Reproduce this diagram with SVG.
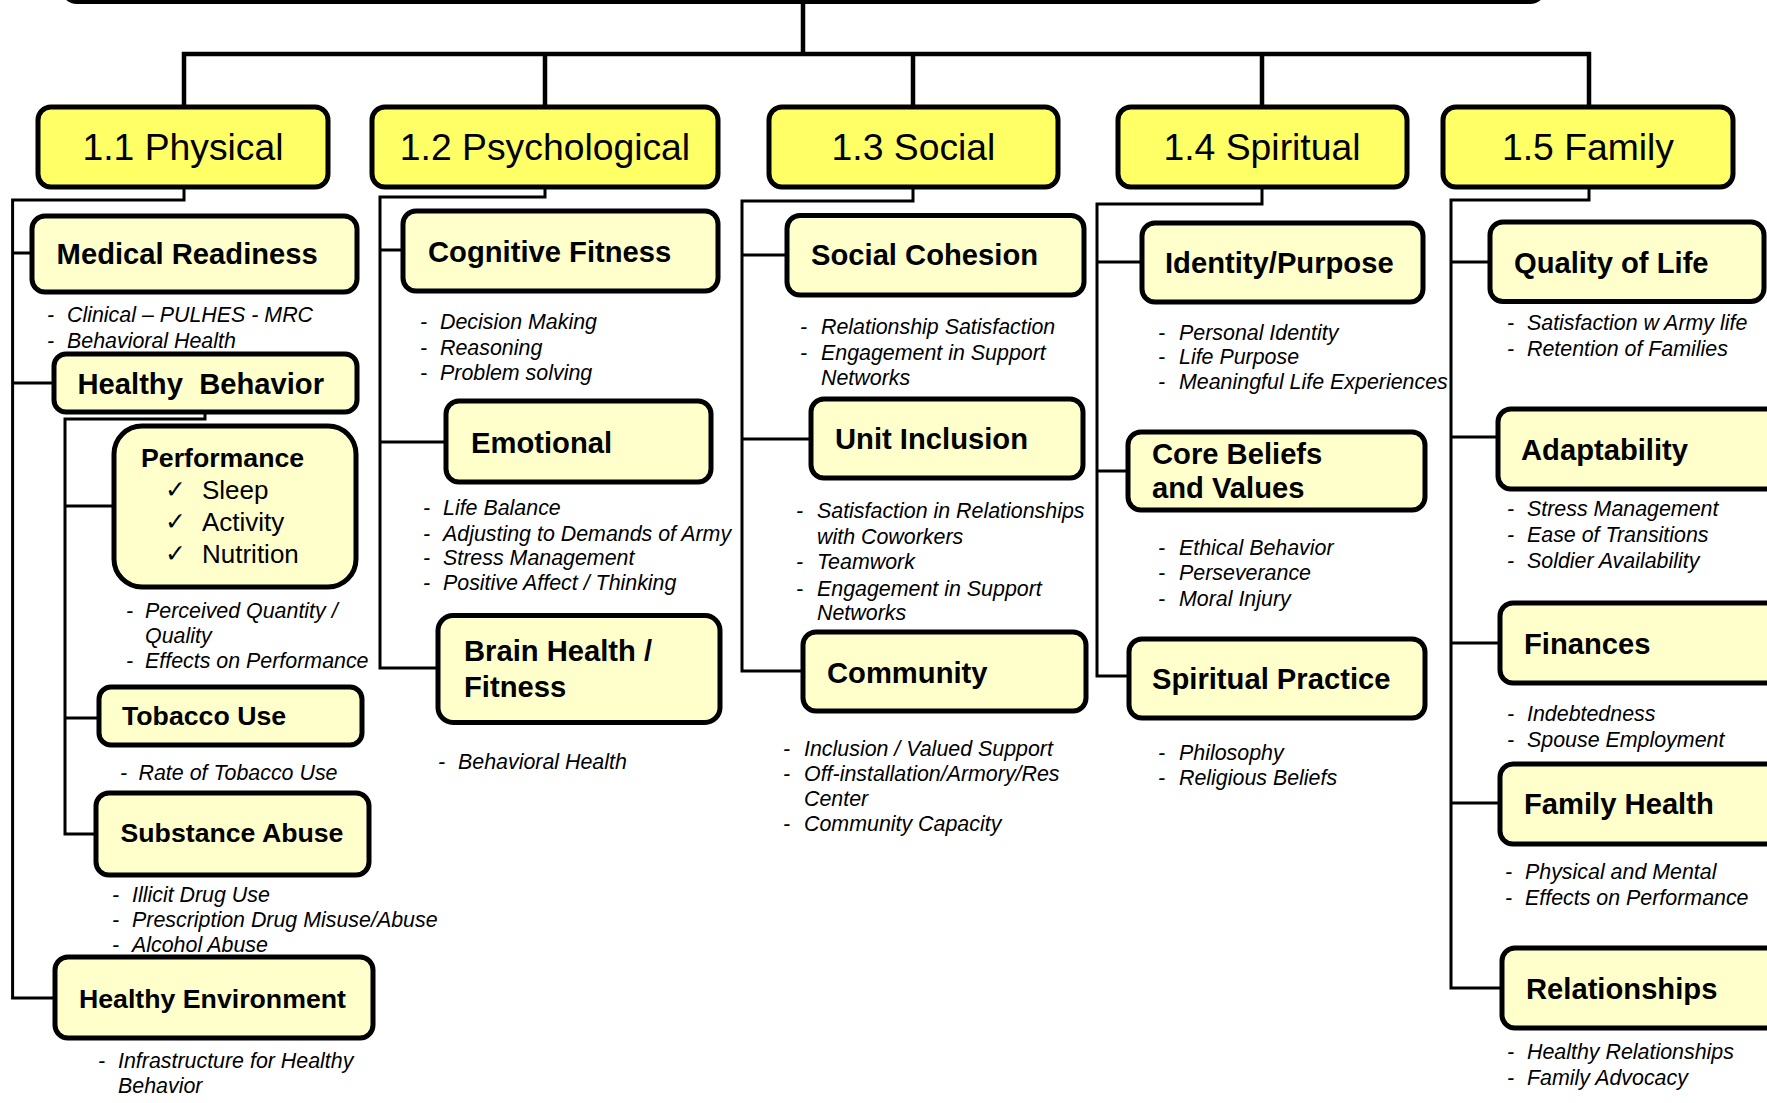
<svg xmlns="http://www.w3.org/2000/svg" width="1767" height="1103" viewBox="0 0 1767 1103">
<style>
.cat{fill:#FFFF66;stroke:#000;stroke-width:5}
.sub{fill:#FFFFCC;stroke:#000;stroke-width:5}
.top{fill:#FFFFFF;stroke:#000;stroke-width:5}
.ct{font-family:"Liberation Sans",Arial,sans-serif;font-size:37.3px;text-anchor:middle;fill:#000}
.st{font-family:"Liberation Sans",Arial,sans-serif;font-weight:bold;font-size:29.2px;fill:#000}
.sm{font-size:26.7px}
.pt{font-family:"Liberation Sans",Arial,sans-serif;font-size:26px;fill:#000}
.ck{font-family:"DejaVu Sans",sans-serif;font-size:25px;fill:#000}
.b{font-family:"Liberation Sans",Arial,sans-serif;font-style:italic;font-size:21.4px;fill:#000}
.conn{fill:none;stroke:#000;stroke-width:3}
.main{fill:none;stroke:#000;stroke-width:4.5}
</style>

<g id="root">
<rect class="top" x="63" y="-60" width="1481" height="61.5" rx="14"/>
</g>

<g id="connectors">
<path class="main" d="M803,2 V54 M184,107 V54 H1589 V107 M545,54 V107 M913,54 V107 M1262,54 V107"/>
<path class="conn" d="M184,187 V200 H12.6 V998 H55 M12.6,253 H32 M12.6,383 H54"/>
<path class="conn" d="M205,412 V419 H65 V834 H96 M65,506 H114 M65,718 H99"/>
<path class="conn" d="M545,187 V197 H380 V668 H438 M380,250 H403 M380,442 H446"/>
<path class="conn" d="M913,187 V201 H742 V671 H803 M742,255 H787 M742,439 H811"/>
<path class="conn" d="M1262,187 V204 H1097 V676 H1129 M1097,262 H1142 M1097,471 H1128"/>
<path class="conn" d="M1589,187 V200 H1451 V988 H1502 M1451,262 H1490 M1451,437 H1498 M1451,643 H1500 M1451,803 H1500"/>
</g>

<g id="cat-physical"><rect class="cat" x="38" y="107" width="290" height="80" rx="13"/><text class="ct" x="183" y="160">1.1 Physical</text></g>
<g id="cat-psychological"><rect class="cat" x="372" y="107" width="346" height="80" rx="13"/><text class="ct" x="545" y="160">1.2 Psychological</text></g>
<g id="cat-social"><rect class="cat" x="769" y="107" width="289" height="80" rx="13"/><text class="ct" x="913.5" y="160">1.3 Social</text></g>
<g id="cat-spiritual"><rect class="cat" x="1118" y="107" width="289" height="80" rx="13"/><text class="ct" x="1262" y="160">1.4 Spiritual</text></g>
<g id="cat-family"><rect class="cat" x="1443" y="107" width="290" height="80" rx="13"/><text class="ct" x="1588" y="160">1.5 Family</text></g>

<!-- Physical column -->
<g id="medical-readiness"><rect class="sub" x="32" y="216" width="325" height="76" rx="13"/><text class="st" x="56.6" y="264">Medical Readiness</text></g>
<g id="medical-readiness-items"><text class="b"><tspan x="47" y="322">-</tspan><tspan x="67" y="322">Clinical – PULHES - MRC</tspan><tspan x="47" y="348">-</tspan><tspan x="67" y="348">Behavioral Health</tspan></text></g>
<g id="healthy-behavior"><rect class="sub" x="54" y="354" width="303" height="58" rx="12"/><text class="st" x="77.5" y="394" xml:space="preserve">Healthy  Behavior</text></g>
<g id="performance"><rect class="sub" x="114" y="426" width="242" height="161" rx="28"/>
<text class="st sm" x="141" y="467">Performance</text>
<text class="ck" x="165" y="498">✓</text><text class="pt" x="202" y="499">Sleep</text>
<text class="ck" x="165" y="530">✓</text><text class="pt" x="202" y="531">Activity</text>
<text class="ck" x="165" y="562">✓</text><text class="pt" x="202" y="563">Nutrition</text></g>
<g id="performance-items"><text class="b"><tspan x="126" y="618">-</tspan><tspan x="145" y="618">Perceived Quantity /</tspan><tspan x="145" y="643">Quality</tspan><tspan x="126" y="668">-</tspan><tspan x="145" y="668">Effects on Performance</tspan></text></g>
<g id="tobacco-use"><rect class="sub" x="99" y="687" width="263" height="58" rx="12"/><text class="st sm" x="122" y="725">Tobacco Use</text></g>
<g id="tobacco-items"><text class="b"><tspan x="120" y="780">-</tspan><tspan x="138.5" y="780">Rate of Tobacco Use</tspan></text></g>
<g id="substance-abuse"><rect class="sub" x="96" y="793" width="273" height="82" rx="13"/><text class="st sm" x="120.5" y="842">Substance Abuse</text></g>
<g id="substance-items"><text class="b"><tspan x="112" y="902">-</tspan><tspan x="132" y="902">Illicit Drug Use</tspan><tspan x="112" y="927">-</tspan><tspan x="132" y="927">Prescription Drug Misuse/Abuse</tspan><tspan x="112" y="952">-</tspan><tspan x="132" y="952">Alcohol Abuse</tspan></text></g>
<g id="healthy-environment"><rect class="sub" x="55" y="957" width="318" height="81" rx="13"/><text class="st sm" x="79" y="1008">Healthy Environment</text></g>
<g id="environment-items"><text class="b"><tspan x="98" y="1068">-</tspan><tspan x="118" y="1068">Infrastructure for Healthy</tspan><tspan x="118" y="1093">Behavior</tspan></text></g>

<!-- Psychological column -->
<g id="cognitive-fitness"><rect class="sub" x="403" y="211" width="315" height="80" rx="13"/><text class="st" x="428" y="262">Cognitive Fitness</text></g>
<g id="cognitive-items"><text class="b"><tspan x="420" y="329">-</tspan><tspan x="440" y="329">Decision Making</tspan><tspan x="420" y="355">-</tspan><tspan x="440" y="355">Reasoning</tspan><tspan x="420" y="380">-</tspan><tspan x="440" y="380">Problem solving</tspan></text></g>
<g id="emotional"><rect class="sub" x="446" y="401" width="265" height="81" rx="13"/><text class="st" x="471" y="453">Emotional</text></g>
<g id="emotional-items"><text class="b"><tspan x="423" y="515">-</tspan><tspan x="443" y="515">Life Balance</tspan><tspan x="423" y="540.5">-</tspan><tspan x="443" y="540.5">Adjusting to Demands of Army</tspan><tspan x="423" y="565">-</tspan><tspan x="443" y="565">Stress Management</tspan><tspan x="423" y="590">-</tspan><tspan x="443" y="590">Positive Affect / Thinking</tspan></text></g>
<g id="brain-health"><rect class="sub" x="438" y="615.5" width="282" height="107" rx="15"/><text class="st" x="464" y="661">Brain Health /</text><text class="st" x="464" y="697">Fitness</text></g>
<g id="brain-items"><text class="b"><tspan x="438" y="769">-</tspan><tspan x="458" y="769">Behavioral Health</tspan></text></g>

<!-- Social column -->
<g id="social-cohesion"><rect class="sub" x="787" y="215.5" width="297" height="79.5" rx="13"/><text class="st" x="811" y="265">Social Cohesion</text></g>
<g id="cohesion-items"><text class="b"><tspan x="800" y="334">-</tspan><tspan x="821" y="334">Relationship Satisfaction</tspan><tspan x="800" y="360">-</tspan><tspan x="821" y="360">Engagement in Support</tspan><tspan x="821" y="385">Networks</tspan></text></g>
<g id="unit-inclusion"><rect class="sub" x="811" y="399" width="272" height="79" rx="13"/><text class="st" x="835" y="449">Unit Inclusion</text></g>
<g id="unit-items"><text class="b"><tspan x="796" y="518">-</tspan><tspan x="817" y="518">Satisfaction in Relationships</tspan><tspan x="817" y="544">with Coworkers</tspan><tspan x="796" y="569">-</tspan><tspan x="817" y="569">Teamwork</tspan><tspan x="796" y="595.5">-</tspan><tspan x="817" y="595.5">Engagement in Support</tspan><tspan x="817" y="620">Networks</tspan></text></g>
<g id="community"><rect class="sub" x="803" y="632" width="283" height="79" rx="13"/><text class="st" x="827" y="683">Community</text></g>
<g id="community-items"><text class="b"><tspan x="783" y="756">-</tspan><tspan x="804" y="756">Inclusion / Valued Support</tspan><tspan x="783" y="780.6">-</tspan><tspan x="804" y="780.6">Off-installation/Armory/Res</tspan><tspan x="804" y="806">Center</tspan><tspan x="783" y="831">-</tspan><tspan x="804" y="831">Community Capacity</tspan></text></g>

<!-- Spiritual column -->
<g id="identity-purpose"><rect class="sub" x="1142" y="223" width="281" height="79" rx="13"/><text class="st" x="1165" y="273">Identity/Purpose</text></g>
<g id="identity-items"><text class="b"><tspan x="1158" y="340">-</tspan><tspan x="1179" y="340">Personal Identity</tspan><tspan x="1158" y="364">-</tspan><tspan x="1179" y="364">Life Purpose</tspan><tspan x="1158" y="389">-</tspan><tspan x="1179" y="389">Meaningful Life Experiences</tspan></text></g>
<g id="core-beliefs"><rect class="sub" x="1128" y="432" width="297" height="78" rx="13"/><text class="st" x="1152" y="464">Core Beliefs</text><text class="st" x="1152" y="498">and Values</text></g>
<g id="core-items"><text class="b"><tspan x="1158" y="555">-</tspan><tspan x="1179" y="555">Ethical Behavior</tspan><tspan x="1158" y="580">-</tspan><tspan x="1179" y="580">Perseverance</tspan><tspan x="1158" y="606">-</tspan><tspan x="1179" y="606">Moral Injury</tspan></text></g>
<g id="spiritual-practice"><rect class="sub" x="1129" y="639" width="296" height="79" rx="13"/><text class="st" x="1152" y="689">Spiritual Practice</text></g>
<g id="practice-items"><text class="b"><tspan x="1158" y="760">-</tspan><tspan x="1179" y="760">Philosophy</tspan><tspan x="1158" y="784.5">-</tspan><tspan x="1179" y="784.5">Religious Beliefs</tspan></text></g>

<!-- Family column -->
<g id="quality-of-life"><rect class="sub" x="1490" y="222" width="274" height="79.5" rx="13"/><text class="st" x="1514" y="273">Quality of Life</text></g>
<g id="quality-items"><text class="b"><tspan x="1507" y="330">-</tspan><tspan x="1527" y="330">Satisfaction w Army life</tspan><tspan x="1507" y="356">-</tspan><tspan x="1527" y="356">Retention of Families</tspan></text></g>
<g id="adaptability"><rect class="sub" x="1498" y="409" width="290" height="80" rx="13"/><text class="st" x="1521" y="460">Adaptability</text></g>
<g id="adaptability-items"><text class="b"><tspan x="1507" y="516">-</tspan><tspan x="1527" y="516">Stress Management</tspan><tspan x="1507" y="542">-</tspan><tspan x="1527" y="542">Ease of Transitions</tspan><tspan x="1507" y="568">-</tspan><tspan x="1527" y="568">Soldier Availability</tspan></text></g>
<g id="finances"><rect class="sub" x="1500" y="603" width="290" height="80" rx="13"/><text class="st" x="1524" y="654">Finances</text></g>
<g id="finances-items"><text class="b"><tspan x="1507" y="721">-</tspan><tspan x="1527" y="721">Indebtedness</tspan><tspan x="1507" y="747">-</tspan><tspan x="1527" y="747">Spouse Employment</tspan></text></g>
<g id="family-health"><rect class="sub" x="1500" y="764" width="290" height="80" rx="13"/><text class="st" x="1524" y="814">Family Health</text></g>
<g id="family-health-items"><text class="b"><tspan x="1505" y="878.6">-</tspan><tspan x="1525" y="878.6">Physical and Mental</tspan><tspan x="1505" y="904.5">-</tspan><tspan x="1525" y="904.5">Effects on Performance</tspan></text></g>
<g id="relationships"><rect class="sub" x="1502" y="948" width="290" height="80" rx="13"/><text class="st" x="1526" y="999">Relationships</text></g>
<g id="relationships-items"><text class="b"><tspan x="1507" y="1058.6">-</tspan><tspan x="1527" y="1058.6">Healthy Relationships</tspan><tspan x="1507" y="1084.6">-</tspan><tspan x="1527" y="1084.6">Family Advocacy</tspan></text></g>
</svg>
